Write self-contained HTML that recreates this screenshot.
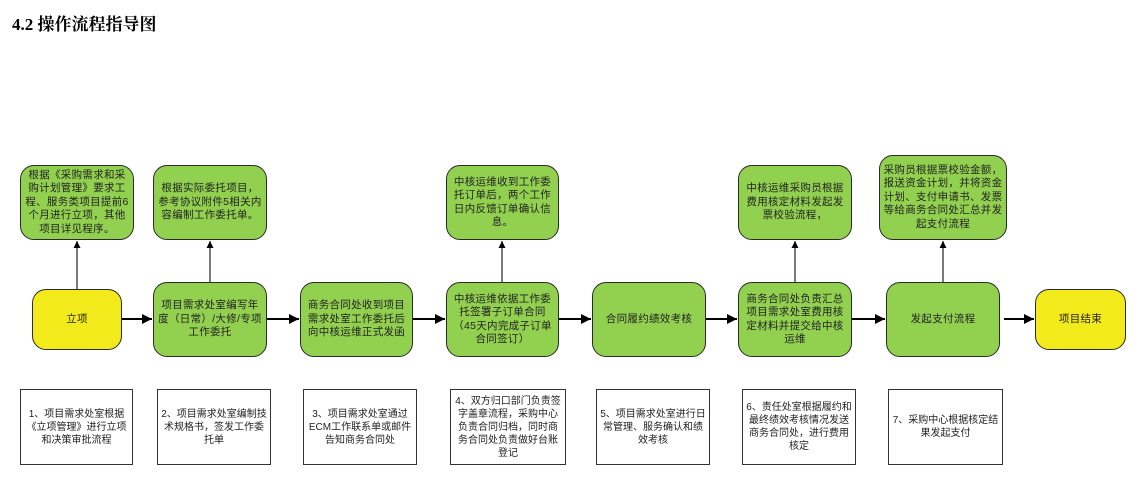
<!DOCTYPE html>
<html><head><meta charset="utf-8"><style>
body{margin:0;width:1146px;height:500px;background:#fff;position:relative;overflow:hidden;font-family:"Liberation Sans","Noto Sans CJK SC",sans-serif;}
.t{position:absolute;left:12px;top:10px;font-size:17px;font-weight:bold;font-family:"Liberation Serif","Noto Serif CJK SC",serif;color:#000;}
.b{position:absolute;box-sizing:border-box;border:1.5px solid #2b2b2b;border-radius:14px;background:#92d050;display:flex;align-items:center;justify-content:center;text-align:center;font-size:10.5px;line-height:13.5px;color:#222;padding:2px 3px;letter-spacing:0.3px}
.y{background:#f2ea1b;}
.w{position:absolute;box-sizing:border-box;border:1.2px solid #333;background:#fff;display:flex;align-items:center;justify-content:center;text-align:center;font-size:10px;line-height:13px;color:#222;padding:2px 3px;}
svg{position:absolute;left:0;top:0}
</style></head><body>
<div class="t">4.2 操作流程指导图</div>
<svg width="1146" height="500">
<defs><marker id="a" markerUnits="userSpaceOnUse" markerWidth="10" markerHeight="10" refX="10" refY="5" orient="auto"><path d="M0,0 L10,5 L0,10z" fill="#000"/></marker>
<marker id="s" markerUnits="userSpaceOnUse" markerWidth="7" markerHeight="7" refX="7" refY="3.5" orient="auto"><path d="M0,0 L7,3.5 L0,7z" fill="#000"/></marker></defs>
<g stroke="#000" stroke-width="2">
<line x1="122" y1="319" x2="152" y2="319" marker-end="url(#a)"/>
<line x1="267" y1="319" x2="299" y2="319" marker-end="url(#a)"/>
<line x1="413" y1="319" x2="445" y2="319" marker-end="url(#a)"/>
<line x1="559" y1="319" x2="591" y2="319" marker-end="url(#a)"/>
<line x1="706" y1="319" x2="737" y2="319" marker-end="url(#a)"/>
<line x1="852" y1="319" x2="885" y2="319" marker-end="url(#a)"/>
<line x1="1004" y1="319" x2="1034" y2="319" marker-end="url(#a)"/>
</g>
<g stroke="#333" stroke-width="1.3">
<line x1="77" y1="289" x2="77" y2="241" marker-end="url(#s)"/>
<line x1="210" y1="282" x2="210" y2="241" marker-end="url(#s)"/>
<line x1="502" y1="282" x2="502" y2="241" marker-end="url(#s)"/>
<line x1="795" y1="282" x2="795" y2="241" marker-end="url(#s)"/>
<line x1="943" y1="282" x2="943" y2="241" marker-end="url(#s)"/>
</g>
</svg>
<div class="b" style="left:20px;top:165px;width:114px;height:75px">根据《采购需求和采购计划管理》要求工程、服务类项目提前6个月进行立项，其他项目详见程序。</div>
<div class="b" style="left:153px;top:165px;width:114px;height:75px">根据实际委托项目，参考协议附件5相关内容编制工作委托单。</div>
<div class="b" style="left:446px;top:165px;width:113px;height:75px">中核运维收到工作委托订单后，两个工作日内反馈订单确认信息。</div>
<div class="b" style="left:738px;top:165px;width:114px;height:75px">中核运维采购员根据费用核定材料发起发票校验流程，</div>
<div class="b" style="left:879px;top:155px;width:128px;height:85px">采购员根据票校验金额，报送资金计划，并将资金计划、支付申请书、发票等给商务合同处汇总并发起支付流程</div>
<div class="b y" style="left:32px;top:289px;width:90px;height:61px">立项</div>
<div class="b" style="left:153px;top:282px;width:114px;height:75px">项目需求处室编写年度（日常）/大修/专项工作委托</div>
<div class="b" style="left:300px;top:282px;width:113px;height:75px">商务合同处收到项目需求处室工作委托后向中核运维正式发函</div>
<div class="b" style="left:446px;top:282px;width:113px;height:75px">中核运维依据工作委托签署子订单合同（45天内完成子订单合同签订）</div>
<div class="b" style="left:592px;top:282px;width:114px;height:75px">合同履约绩效考核</div>
<div class="b" style="left:738px;top:282px;width:114px;height:75px">商务合同处负责汇总项目需求处室费用核定材料并提交给中核运维</div>
<div class="b" style="left:886px;top:282px;width:114px;height:75px">发起支付流程</div>
<div class="b y" style="left:1035px;top:289px;width:91px;height:61px">项目结束</div>
<div class="w" style="left:20px;top:389px;width:113px;height:76px">1、项目需求处室根据《立项管理》进行立项和决策审批流程</div>
<div class="w" style="left:157px;top:389px;width:114px;height:76px">2、项目需求处室编制技术规格书，签发工作委托单</div>
<div class="w" style="left:303px;top:389px;width:114px;height:76px">3、项目需求处室通过ECM工作联系单或邮件告知商务合同处</div>
<div class="w" style="left:450px;top:389px;width:116px;height:76px">4、双方归口部门负责签字盖章流程，采购中心负责合同归档，同时商务合同处负责做好台账登记</div>
<div class="w" style="left:596px;top:389px;width:114px;height:76px">5、项目需求处室进行日常管理、服务确认和绩效考核</div>
<div class="w" style="left:742px;top:389px;width:114px;height:76px">6、责任处室根据履约和最终绩效考核情况发送商务合同处，进行费用核定</div>
<div class="w" style="left:888px;top:389px;width:115px;height:76px">7、采购中心根据核定结果发起支付</div>
</body></html>
